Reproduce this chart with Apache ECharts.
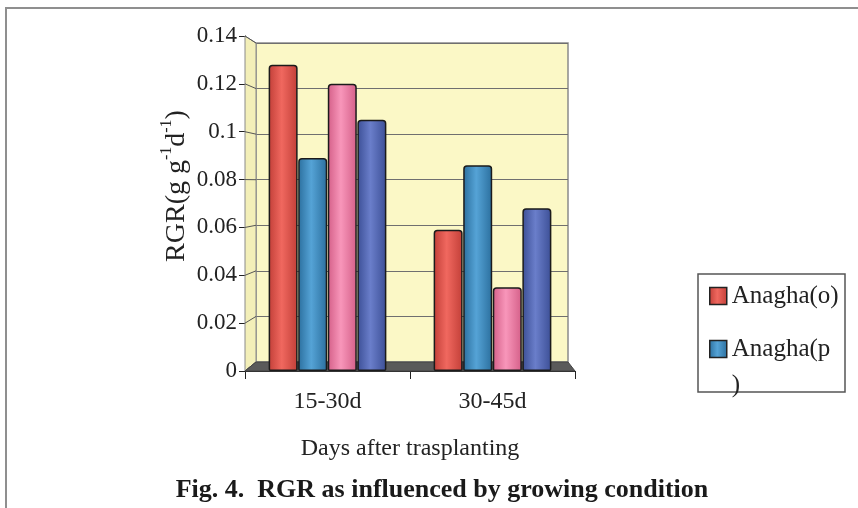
<!DOCTYPE html>
<html>
<head>
<meta charset="utf-8">
<script src="https://cdn.jsdelivr.net/npm/echarts@6/dist/echarts.min.js"></script>
<style>
  html, body { margin: 0; padding: 0; background: #ffffff; }
  #chart { width: 858px; height: 508px; }
</style>
</head>
<body>
<div id="chart"></div>
<script>
// RGR by growth period and growing condition
const categories = ['15-30d', '30-45d'];
const seriesNames = ['Anagha(o)', 'Anagha(p)', 'Series 3', 'Series 4'];
const anaghaO = [0.128, 0.059];
const anaghaP = [0.089, 0.086];
const series3 = [0.120, 0.035];
const series4 = [0.105, 0.068];
const yTicks = [0, 0.02, 0.04, 0.06, 0.08, 0.1, 0.12, 0.14];

const FONT = '"Liberation Serif", "Times New Roman", serif';
const colors = ['#E8504A', '#3A8DC3', '#F07DA6', '#5166B5'];
const edges = ['#C23F38', '#2B6F9E', '#D45F88', '#3C4F96'];
const lights = ['#F0685F', '#55A3D6', '#F896BA', '#6A7ECA'];

// plot layout (front plane and the receding back wall)
const front = { left: 245, top: 36, width: 330, height: 335 };
const back = { left: 256, top: 43, width: 312, height: 319 };

function shade(i) {
  return {
    type: 'linear', x: 0, y: 0, x2: 1, y2: 0,
    colorStops: [
      { offset: 0, color: edges[i] },
      { offset: 0.45, color: lights[i] },
      { offset: 1, color: edges[i] }
    ]
  };
}

const values = [anaghaO, anaghaP, series3, series4];

const chart = echarts.init(document.getElementById('chart'), null, { renderer: 'canvas' });

const legendBase = {
  orient: 'vertical', left: 704, itemWidth: 17, itemHeight: 17, itemGap: 0,
  icon: 'rect', selectedMode: false,
  itemStyle: { borderColor: '#222', borderWidth: 1.5 }
};

const option = {
  backgroundColor: '#ffffff',
  animation: false,
  grid: [
    { left: back.left, top: back.top, width: back.width, height: back.height,
      show: true, backgroundColor: '#FBF8C6', borderColor: '#8a8a8a', borderWidth: 1.5, z: 0 },
    { left: front.left, top: front.top, width: front.width, height: front.height, z: 2 }
  ],
  xAxis: [
    { gridIndex: 0, type: 'category', data: categories, show: false },
    { gridIndex: 1, type: 'category', data: categories,
      axisLine: { show: true, lineStyle: { color: '#222', width: 1 } },
      axisTick: { show: true, length: 8, lineStyle: { color: '#222' } },
      axisLabel: { fontFamily: FONT, fontSize: 24, color: '#222', margin: 19 },
      name: 'Days after trasplanting', nameLocation: 'middle', nameGap: 66,
      nameTextStyle: { fontFamily: FONT, fontSize: 24, color: '#222' } }
  ],
  yAxis: [
    { gridIndex: 0, type: 'value', min: 0, max: 0.14, interval: 0.02,
      axisLine: { show: false }, axisTick: { show: false }, axisLabel: { show: false },
      splitLine: { show: true, lineStyle: { color: '#6f6f6f', width: 1 } } },
    { gridIndex: 1, type: 'value', min: 0, max: 0.14, interval: 0.02,
      axisLine: { show: true, lineStyle: { color: '#222', width: 1 } },
      axisTick: { show: true, inside: false, length: 6, lineStyle: { color: '#222' } },
      splitLine: { show: false },
      axisLabel: { fontFamily: FONT, fontSize: 23, color: '#222', margin: 8,
        formatter: v => yTicks.includes(+v.toFixed(2)) ? String(+v.toFixed(2)) : '' } }
  ],
  legend: [
    Object.assign({}, legendBase, {
      data: [seriesNames[0]], top: 277,
      textStyle: { fontFamily: FONT, fontSize: 25, color: '#222', lineHeight: 28 } }),
    Object.assign({}, legendBase, {
      data: [seriesNames[1]], top: 290,
      // long name wraps onto a second line inside the box
      formatter: name => ' \n' + name.replace(')', '\n)'),
      textStyle: { fontFamily: FONT, fontSize: 25, color: '#222', lineHeight: 36 } })
  ],
  series: values.map((arr, i) => ({
    name: seriesNames[i],
    type: 'bar',
    xAxisIndex: 1, yAxisIndex: 1,
    data: arr,
    barWidth: 29,
    barGap: '2%',
    z: 3,
    color: colors[i],
    itemStyle: { color: shade(i), borderColor: '#1b1b1b', borderWidth: 1.5, borderRadius: [3, 3, 1, 1] }
  }))
};

chart.setOption(option);

// side wall, floor, tick connectors, frame, axis title and caption
function decorate() {
  const fLeft = front.left, fRight = front.left + front.width;
  const bLeft = back.left, bRight = back.left + back.width;
  const fy = v => chart.convertToPixel({ yAxisIndex: 1 }, v);
  const by = v => chart.convertToPixel({ yAxisIndex: 0 }, v);
  const g = [];
  // left side wall
  g.push({ type: 'polygon', z: 1, silent: true,
    shape: { points: [[fLeft, fy(0.14)], [bLeft, by(0.14)], [bLeft, by(0)], [fLeft, fy(0)]] },
    style: { fill: '#F3EFB8', stroke: '#8a8a8a', lineWidth: 1 } });
  // connectors from front ticks to back wall grid lines
  yTicks.forEach(v => {
    g.push({ type: 'line', z: 1, silent: true,
      shape: { x1: fLeft, y1: fy(v), x2: bLeft, y2: by(v) },
      style: { stroke: '#555', lineWidth: 1 } });
  });
  // floor
  g.push({ type: 'polygon', z: 1, silent: true,
    shape: { points: [[bLeft, by(0)], [bRight, by(0)], [fRight, fy(0)], [fLeft, fy(0)]] },
    style: { fill: '#5a5a5a', stroke: '#444', lineWidth: 1 } });
  // outer frame
  g.push({ type: 'rect', z: 0, silent: true,
    shape: { x: 6, y: 8, width: 880, height: 540 },
    style: { fill: 'none', stroke: '#8f8f8f', lineWidth: 2 } });
  // legend box
  g.push({ type: 'rect', z: 0, silent: true,
    shape: { x: 698, y: 274, width: 147, height: 118 },
    style: { fill: '#fff', stroke: '#555', lineWidth: 1.5 } });
  // y axis title
  g.push({ type: 'text', z: 5, silent: true, x: 175, y: 186, rotation: Math.PI / 2,
    style: {
      text: '{n|RGR(g g}{s|-1}{n|d}{s|-1}{n|)}',
      align: 'center', verticalAlign: 'middle',
      rich: {
        n: { fontFamily: FONT, fontSize: 28, fill: '#222', lineHeight: 32, verticalAlign: 'bottom' },
        s: { fontFamily: FONT, fontSize: 16, fill: '#222', lineHeight: 32, verticalAlign: 'top' }
      }
    } });
  // caption
  g.push({ type: 'text', z: 5, silent: true, x: 442, y: 490,
    style: { text: 'Fig. 4.  RGR as influenced by growing condition',
      fontFamily: FONT, fontSize: 26, fontWeight: 'bold', fill: '#1a1a1a',
      align: 'center', verticalAlign: 'middle' } });
  chart.setOption({ graphic: g });
}
decorate();
</script>
</body>
</html>
